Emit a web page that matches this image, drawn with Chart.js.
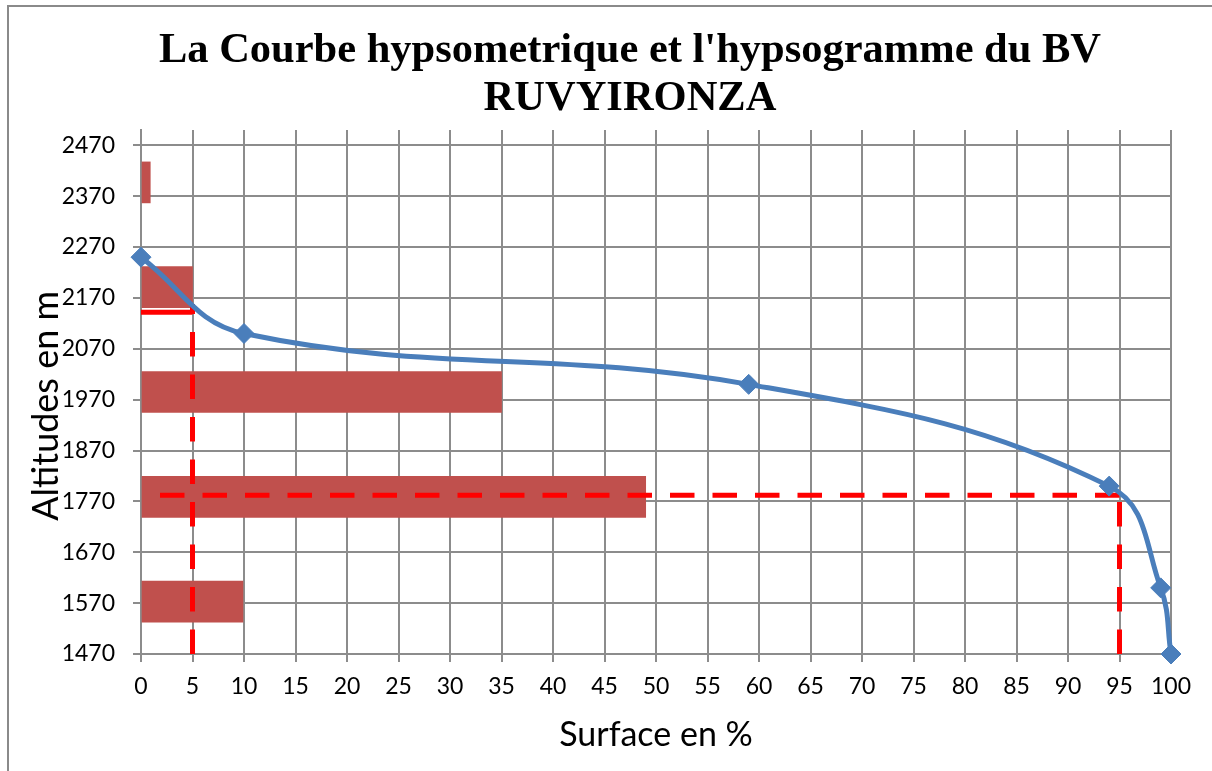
<!DOCTYPE html>
<html>
<head>
<meta charset="utf-8">
<script src="https://cdn.jsdelivr.net/npm/chart.js@4/dist/chart.umd.min.js"></script>
<style>
  html, body { margin: 0; padding: 0; background: #fff; }
  #wrap { position: relative; width: 1212px; height: 771px; overflow: hidden; }
  #frame { position: absolute; left: 7px; top: 5px; right: -10px; bottom: -10px;
           border-left: 2px solid #8a8a8a; border-top: 2px solid #8a8a8a; pointer-events: none; }
</style>
</head>
<body>
<div id="wrap">
  <canvas id="chart" width="1212" height="771"></canvas>
  <div id="frame"></div>
</div>
<script>
// courbe hypsometrique (surface cumulee en %, altitude en m)
const surfaceCurve = [0, 10, 59, 94, 99, 100];
const altitudeCurve = [2250, 2100, 2000, 1800, 1600, 1470];

// hypsogramme : centre de chaque tranche d'altitude et surface en %
const classAltitudes = [2397, 2191, 1985, 1779, 1573];
const classSurface = [0.9, 5, 35, 49, 9.9];

// lignes de lecture (altitude a 5 % et a 95 %)
const guideX = [0, 5, 95, 1.5];
const guideY = [2142, 2158, 1782, 1470];

const xTicks = [0, 5, 10, 15, 20, 25, 30, 35, 40, 45, 50, 55, 60, 65, 70, 75, 80, 85, 90, 95, 100];
const yTicks = [1470, 1570, 1670, 1770, 1870, 1970, 2070, 2170, 2270, 2370, 2470];

const curvePoints = surfaceCurve.map((s, i) => ({ x: s, y: altitudeCurve[i] }));
const barPoints = classSurface.map((s, i) => ({ x: s, y: classAltitudes[i] }));

const gridColor = '#8c8c8c';
const tickFont = { family: 'Lato', size: 23 };

const redLine = (data, dash) => ({
  type: 'line',
  data: data,
  borderColor: '#ff0000',
  borderWidth: 5,
  borderDash: dash,
  pointRadius: 0,
  tension: 0,
  fill: false,
  clip: false,
  order: 2,
});

// centre le titre comme dans Excel (sur toute la largeur du cadre)
const shiftTitle = {
  id: 'shiftTitle',
  afterLayout(chart) {
    if (chart.titleBlock) chart.titleBlock.left += 89;
  },
};

const ctx = document.getElementById('chart').getContext('2d');
new Chart(ctx, {
  data: {
    datasets: [
      {
        type: 'bar',
        indexAxis: 'y',
        data: barPoints,
        backgroundColor: '#c0504d',
        barThickness: 41,
        order: 3,
      },
      // 5 % : horizontale pleine puis verticale en tirets (tracee depuis le bas)
      redLine([{ x: guideX[0], y: guideY[0] }, { x: guideX[1], y: guideY[0] }], []),
      redLine([{ x: guideX[1], y: guideY[3] }, { x: guideX[1], y: guideY[1] }], [24.5, 18]),
      // 95 %
      redLine([{ x: guideX[2], y: guideY[2] }, { x: guideX[3], y: guideY[2] }], [24.5, 18]),
      redLine([{ x: guideX[2], y: guideY[3] }, { x: guideX[2], y: guideY[2] }], [24.5, 18]),
      {
        type: 'line',
        data: curvePoints,
        borderColor: '#4a7ebb',
        backgroundColor: '#4a7ebb',
        borderWidth: 5,
        tension: 0.4,
        pointStyle: 'rectRot',
        pointRadius: 10,
        pointBorderWidth: 1,
        fill: false,
        clip: false,
        order: 1,
      },
    ],
  },
  plugins: [shiftTitle],
  options: {
    responsive: false,
    animation: false,
    layout: { padding: { left: 0, right: 41, top: 0, bottom: 0 } },
    plugins: {
      legend: { display: false },
      tooltip: { enabled: false },
      title: {
        display: true,
        text: ["La Courbe hypsometrique et l'hypsogramme du BV", 'RUVYIRONZA'],
        color: '#000',
        font: { family: 'Liberation Serif', size: 42.5, weight: 'bold', lineHeight: 48 / 42.5 },
        padding: { top: 27, bottom: 7 },
      },
    },
    scales: {
      x: {
        type: 'linear',
        position: 'bottom',
        min: 0,
        max: 100,
        offset: false,
        afterBuildTicks: (s) => { s.ticks = xTicks.map((v) => ({ value: v })); },
        afterFit: (s) => { s.height = 117; s.paddingLeft = 0; s.paddingRight = 0; },
        ticks: { font: tickFont, color: '#000', padding: 11, maxRotation: 0, autoSkip: false,
                 callback: (v) => String(v) },
        grid: { color: gridColor, lineWidth: 2, tickLength: 8, offset: false },
        border: { color: gridColor, width: 2 },
        title: {
          display: true,
          text: 'Surface en %',
          color: '#000',
          font: { family: 'Lato', size: 34 },
          padding: { top: 0, bottom: 16 },
        },
      },
      y: {
        type: 'linear',
        position: 'left',
        min: 1470,
        max: 2500,
        offset: false,
        afterBuildTicks: (s) => { s.ticks = yTicks.map((v) => ({ value: v })); },
        afterFit: (s) => { s.width = 141; s.paddingTop = 0; s.paddingBottom = 0; },
        ticks: { font: tickFont, color: '#000', padding: 18, autoSkip: false,
                 callback: (v) => String(v) },
        grid: { color: gridColor, lineWidth: 2, tickLength: 8, offset: false },
        border: { color: gridColor, width: 2 },
        title: {
          display: true,
          text: 'Altitudes en m   ',
          color: '#000',
          font: { family: 'Lato', size: 36 },
          padding: { top: 25, bottom: 0 },
        },
      },
    },
  },
});
</script>
</body>
</html>
